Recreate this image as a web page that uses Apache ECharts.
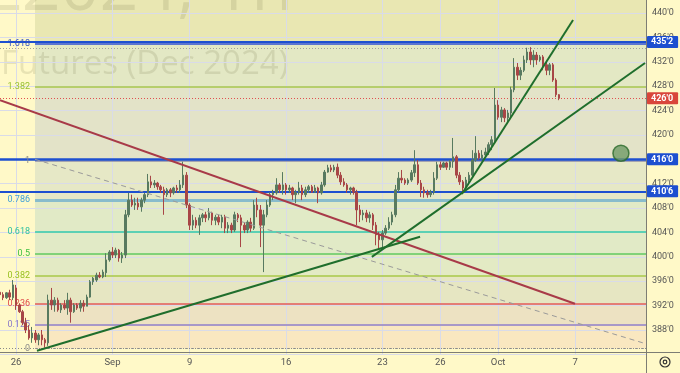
<!DOCTYPE html>
<html><head><meta charset="utf-8">
<script src="https://cdn.jsdelivr.net/npm/echarts@6/dist/echarts.min.js"></script>
<style>html,body{margin:0;padding:0;background:#fff9c8}#c{width:680px;height:373px}</style>
</head><body><div id="c"></div>
<script>
// ---- data ----
const N_CAT = 202;
const tickIdx = [5, 35, 59, 89, 119, 137, 155, 179];
const tickText = ['26', 'Sep', '9', '16', '23', '26', 'Oct', '7'];

const opens = [
394.2,393.8,393.3,394.1,393.3,394.9,392.1,391.0,389.2,388.0,
386.7,387.5,386.4,387.2,386.4,385.9,392.9,392.1,392.9,391.3,
392.1,391.6,392.9,391.0,392.1,391.6,392.4,391.9,393.4,395.9,
396.2,397.0,396.7,397.4,399.5,400.8,400.3,401.1,399.8,400.3,
406.9,409.3,408.5,408.8,408.2,409.3,410.2,412.3,411.8,412.1,
411.5,411.0,410.2,411.0,410.5,411.3,411.0,411.8,413.4,408.5,
405.2,406.0,405.2,406.4,406.9,406.4,407.2,406.0,406.5,405.7,
406.5,404.7,405.2,404.4,406.9,406.4,405.2,404.4,405.7,404.7,
408.5,407.7,405.2,406.9,408.5,410.2,410.5,411.8,411.0,411.8,
411.0,411.3,410.2,410.6,411.3,410.2,411.0,411.5,410.6,411.3,
410.5,411.8,413.9,414.6,414.25,414.7,413.4,412.3,411.8,411.0,
411.3,410.6,407.7,406.9,407.2,406.4,406.9,405.2,403.6,402.8,
403.9,404.7,405.7,406.9,411.0,412.9,412.6,412.1,412.6,413.8,
415.1,412.1,411.0,410.5,410.2,410.6,412.9,415.1,414.7,415.4,
414.7,415.6,416.4,413.4,412.3,411.3,412.6,413.4,415.9,417.0,
416.2,416.7,417.2,418.4,419.2,424.9,422.9,424.1,422.8,423.6,
427.4,431.1,429.8,430.6,432.3,433.6,432.3,433.1,432.3,432.8,
431.5,430.6,431.5,429.0,426.6];
const closes = [
393.8,393.3,394.1,393.4,395.4,392.1,391.0,389.2,388.0,386.7,
387.5,386.4,387.2,386.4,385.9,392.9,392.1,392.9,391.3,392.1,
391.6,392.9,391.0,392.1,391.6,392.4,391.9,393.4,395.9,396.5,
397.0,396.7,397.5,399.5,400.8,400.3,401.1,399.8,400.3,406.9,
409.3,408.5,408.8,408.2,409.3,410.2,412.3,411.8,412.1,411.5,
411.0,410.2,411.0,410.5,411.3,411.0,411.8,413.4,408.5,405.2,
406.0,405.2,406.4,406.9,406.4,407.2,406.0,406.5,405.7,406.5,
404.7,405.2,404.4,406.9,406.4,405.2,404.4,405.7,404.7,408.5,
407.7,405.2,406.9,408.5,410.2,410.5,411.8,411.0,411.8,411.0,
411.3,410.2,410.6,411.3,410.2,411.0,411.5,410.6,411.3,410.5,
411.8,413.9,414.6,414.25,414.7,413.4,412.3,411.8,411.0,411.3,
410.6,407.7,406.9,407.2,406.4,406.9,405.2,403.6,402.8,403.9,
404.7,405.7,406.9,411.0,412.9,412.6,412.1,412.6,413.8,415.1,
412.1,411.0,410.5,410.2,410.6,412.9,415.1,414.7,415.4,414.7,
415.6,416.4,413.4,412.3,411.3,412.6,413.4,415.9,417.0,416.2,
416.7,417.2,418.4,419.2,424.9,422.9,424.1,422.8,423.6,427.4,
431.1,429.8,430.6,432.3,433.6,432.3,433.1,432.3,432.8,431.5,
430.6,431.5,429.0,426.6,426.0];
const lows = [
393.3,392.9,393.1,392.9,392.9,391.3,390.8,388.8,387.5,386.4,
385.9,385.9,385.5,385.5,385.1,385.4,391.3,391.0,391.0,390.8,
391.3,390.5,389.2,390.8,391.3,391.0,391.0,391.9,393.3,395.4,
395.9,396.5,396.5,396.7,399.2,399.8,399.8,399.2,399.0,399.8,
406.5,408.2,407.7,407.7,407.4,408.8,409.8,411.3,411.3,411.0,
410.5,406.9,409.8,409.8,410.2,410.5,410.5,411.3,408.0,404.4,
404.4,404.7,403.6,405.7,405.7,406.0,405.2,405.2,405.2,404.7,
403.9,403.9,403.9,404.1,405.7,401.6,403.9,403.9,404.1,404.4,
406.5,401.6,397.5,406.5,408.2,409.3,410.2,410.5,410.2,410.2,
410.5,409.3,408.8,410.2,409.3,409.8,410.5,410.5,410.5,408.8,
410.2,411.5,413.8,413.9,413.9,412.9,411.8,411.5,410.5,410.2,
410.2,405.2,405.7,406.0,405.7,405.6,404.4,401.9,401.3,401.6,
403.6,404.4,405.2,406.5,410.6,412.1,411.8,411.8,412.3,413.1,
411.8,409.8,409.7,409.7,409.8,410.2,412.6,414.25,414.6,414.25,
414.25,414.6,412.9,411.8,410.6,411.0,411.8,413.1,415.6,415.9,
415.9,416.4,416.7,417.5,418.7,422.5,422.1,422.1,421.9,422.9,
427.0,429.0,429.0,430.3,431.8,431.5,431.1,431.5,432.0,430.6,
429.8,429.8,428.7,426.2,425.7];
const highs = [
394.6,394.2,394.2,394.6,396.2,395.4,392.4,391.3,390.0,388.8,
388.5,388.0,387.5,388.0,386.7,393.8,394.9,393.4,393.3,392.4,
392.9,394.1,393.3,392.4,392.4,392.9,392.9,393.8,396.2,396.7,
397.4,397.5,397.9,400.6,401.1,401.6,401.5,401.3,400.8,407.7,
410.5,410.2,409.7,409.7,409.7,410.5,413.6,413.3,412.6,412.3,
411.8,411.5,411.3,411.3,411.5,411.8,412.6,415.6,413.9,408.8,
406.9,406.5,406.9,407.2,407.4,408.0,407.4,406.9,406.9,406.9,
406.9,405.7,405.6,407.4,407.2,406.9,405.7,406.0,406.4,409.3,
409.7,408.5,407.7,409.3,410.6,411.0,412.9,412.1,413.9,412.1,
411.8,411.5,411.0,412.3,411.8,411.5,411.8,411.8,411.8,411.5,
412.3,414.25,415.1,415.1,415.1,415.3,413.9,412.9,412.1,411.5,
411.5,411.0,408.5,407.7,407.7,407.4,407.2,405.7,404.1,404.4,
405.2,406.5,407.4,411.8,413.9,414.25,412.9,412.9,414.25,417.5,
415.9,412.6,411.5,411.0,411.0,413.9,415.6,415.6,415.6,415.6,
415.9,419.5,416.7,413.9,412.6,413.1,413.9,417.5,419.8,417.5,
417.5,417.9,418.8,419.8,427.7,425.7,424.6,424.4,424.1,427.9,
432.6,431.8,431.1,433.0,434.3,434.4,433.9,433.6,433.1,433.1,
432.0,431.8,431.8,429.3,426.7];

// Fibonacci retracement (anchor bar index -> right edge)
const fibLow = 385.0, fibHigh = 416.0;
const fibStartIdx = 10.9, fibEndIdx = 201;
const fibRatios = [0, 0.125, 0.236, 0.382, 0.5, 0.618, 0.786, 1, 1.382, 1.618];
const fibText   = ['0', '0.125', '0.236', '0.382', '0.5', '0.618', '0.786', '1', '1.382', '1.618'];

// horizontal price levels with axis tags
const levelPrices = [435.25, 426.0, 416.0, 410.75];
const levelText = ["435'2", "426'0", "416'0", "410'6"];

// drawn trend lines [barIndex, price]
const redLine   = [[0, 425.7], [178.9, 392.3]];
const grayDash  = [[10.9, 416.0], [200, 385.9]];
const greenA    = [[11.5, 384.6], [130.7, 403.3]];
const greenB    = [[115.7, 400.0], [200.7, 431.8]];
const greenC    = [[143.7, 410.3], [178.3, 438.85]];
const markerPt  = [[193.2, 417.0]];

// ---- styles ----
const fibLineColor  = ['#9a9a9a', '#a898c8', '#e05a5a', '#a8c848', '#60c860', '#5cd0b4', '#88bccc', '#a4a4b0', '#a8c848', '#5a74d0'];
const fibLabelColor = ['#8a8a8a', '#8a7ac8', '#e04848', '#98c020', '#40c040', '#30c0a0', '#40a0d8', '#888888', '#98c030', '#3050c0'];
const fibLineWidth  = [1, 2, 1.5, 1.5, 1.5, 2, 3, 2, 1.5, 2];
const zoneColors = ['#f9e7c0', '#ede2c2', '#e6e6c2', '#e3eac4', '#e1eac6', '#e1eac6', '#e6e8c6', '#e3e3c8', '#e3e8c4', '#e9e7b2'];
const levelColor = ['#1d4fd0', '#d9463b', '#1d4fd0', '#1d4fd0'];

const FONT = 'Roboto, "Liberation Sans", sans-serif';
function fmtPrice(v) { const i = Math.floor(v + 1e-9); const f = Math.round((v - i) * 8); return i + "'" + f; }
const fibPrice = r => fibLow + (fibHigh - fibLow) * r;

const chart = echarts.init(document.getElementById('c'), null, { renderer: 'canvas' });

const cats = Array.from({ length: N_CAT }, (_, i) => String(i));
const candleData = opens.map((o, i) => [o, closes[i], lows[i], highs[i]]);

const Y_MIN = 384, Y_MAX = 442.13;

// fib zones
const zoneAreas = fibRatios.map((r, k) => {
  const lo = fibPrice(r);
  const hi = k + 1 < fibRatios.length ? fibPrice(fibRatios[k + 1]) : Y_MAX;
  return [{ coord: [fibStartIdx, lo], itemStyle: { color: zoneColors[k] } }, { coord: [fibEndIdx, hi] }];
});
// fib lines
const fibLines = fibRatios.map((r, k) => {
  let p = fibPrice(r);
  if (r === 1.618) p = 434.9;
  if (r === 1) p = 415.75;
  return [{
    coord: [fibStartIdx, p],
    lineStyle: { color: fibLineColor[k], width: fibLineWidth[k], type: r === 0 ? 'dotted' : 'solid' },
    label: { show: true, position: 'start', formatter: fibText[k], color: fibLabelColor[k], fontSize: 9, fontFamily: FONT, distance: 5 }
  }, { coord: [fibEndIdx, p] }];
});
// full-width horizontal lines
const hLines = [
  { yAxis: 385.0, lineStyle: { color: '#8a8a8a', width: 1, type: [1, 2] }, label: { show: false } },
  { yAxis: 434.25, lineStyle: { color: '#a0a0a0', width: 1, type: [1, 2] }, label: { show: false } }
].concat(levelPrices.map((p, k) => ({
  yAxis: p,
  lineStyle: k === 1 ? { color: '#e05050', width: 1, type: [1, 2] } : { color: levelColor[k], width: k === 2 ? 2.5 : 2, type: 'solid' },
  label: {
    show: true, position: 'end', distance: 1, formatter: levelText[k],
    backgroundColor: levelColor[k], color: '#ffffff', fontSize: 9, fontWeight: 'bold', fontFamily: FONT,
    padding: [2, 5, 1, 4], borderRadius: 1
  }
})));

function trend(data, color, width, type, z) {
  return { type: 'line', xAxisIndex: 1, yAxisIndex: 0, data, symbol: 'none', silent: true,
    lineStyle: { color, width, type }, z: z || 6 };
}

const option = {
  animation: false,
  backgroundColor: '#fff9c8',
  grid: { left: 0, right: 34, top: 0, bottom: 18.6, containLabel: false },
  xAxis: [{
    type: 'category', data: cats, boundaryGap: false, gridIndex: 0, z: 3,
    axisLine: { show: false }, axisTick: { show: false },
    axisLabel: {
      interval: i => tickIdx.indexOf(i) >= 0,
      formatter: (v, i) => { const k = tickIdx.indexOf(i); return k >= 0 ? tickText[k] : ''; },
      color: '#555', fontSize: 9.5, fontFamily: FONT, margin: 3
    },
    splitLine: { show: true, interval: i => tickIdx.indexOf(i) >= 0, lineStyle: { color: '#d9dbe8', width: 1 } }
  }, {
    type: 'value', min: 0, max: N_CAT - 1, gridIndex: 0, show: false
  }],
  yAxis: [{
    type: 'value', min: Y_MIN, max: Y_MAX, interval: 4, position: 'right', z: 3,
    axisLine: { show: false }, axisTick: { show: false },
    axisLabel: {
      showMaxLabel: false,
      formatter: v => (v < 386 || v > 441 || Math.abs(v - Math.round(v)) > 1e-6) ? '' : fmtPrice(v),
      color: '#555', fontSize: 9, fontFamily: FONT, margin: 6
    },
    splitLine: { show: true, showMaxLine: false, lineStyle: { color: '#d9dbe8', width: 1 } }
  }],
  series: [
    { type: 'line', name: 'fibZones', xAxisIndex: 1, yAxisIndex: 0, z: 1, silent: true, symbol: 'none',
      data: [[fibStartIdx, fibLow], [fibStartIdx, fibHigh]], lineStyle: { opacity: 0 },
      markArea: { silent: true, data: zoneAreas } },
    { type: 'line', name: 'fibLines', xAxisIndex: 1, yAxisIndex: 0, z: 4, silent: true, symbol: 'none',
      data: [[fibStartIdx, fibLow], [fibStartIdx, fibHigh]], lineStyle: { opacity: 0 },
      markLine: { silent: true, symbol: ['none', 'none'], data: fibLines } },
    { type: 'candlestick', name: 'price', xAxisIndex: 0, yAxisIndex: 0, z: 5, data: candleData, barWidth: 2,
      itemStyle: { color: '#587a60', color0: '#a84646', borderColor: '#587a60', borderColor0: '#a84646', borderWidth: 1 } },
    trend(redLine, '#a83a48', 2, 'solid'),
    trend(grayDash, '#9a9a9a', 1, [5, 4]),
    trend(greenA, '#1f6e2c', 2, 'solid'),
    trend(greenB, '#1f6e2c', 2, 'solid'),
    trend(greenC, '#1f6e2c', 2, 'solid'),
    { type: 'line', name: 'levels', xAxisIndex: 1, yAxisIndex: 0, z: 7, silent: true, symbol: 'none',
      data: [[0, 416], [1, 416]], lineStyle: { opacity: 0 },
      markLine: { silent: true, symbol: ['none', 'none'], data: hLines } },
    { type: 'scatter', xAxisIndex: 1, yAxisIndex: 0, z: 8, silent: true, data: markerPt, symbolSize: 16,
      itemStyle: { color: '#6f9a66', borderColor: '#2b6a2b', borderWidth: 1.5 } }
  ],
  graphic: [
    { type: 'text', z: 2, silent: true, x: 293, y: 25,
      style: { text: 'ZCZ2024, 1h', font: '68px "Open Sans", sans-serif', fill: 'rgba(100,100,60,0.15)', textAlign: 'right', textVerticalAlign: 'bottom' } },
    { type: 'text', z: 2, silent: true, x: 1, y: 81,
      style: { text: 'Futures (Dec 2024)', font: '33px "Open Sans", sans-serif', fill: 'rgba(100,100,60,0.15)', textAlign: 'left', textVerticalAlign: 'bottom' } },
    { type: 'line', z: 20, silent: true, shape: { x1: 0, y1: 352.5, x2: 680, y2: 352.5 }, style: { stroke: '#7d7d74', lineWidth: 1 } },
    { type: 'line', z: 20, silent: true, shape: { x1: 646.5, y1: 0, x2: 646.5, y2: 373 }, style: { stroke: '#7d7d74', lineWidth: 1 } },
    { type: 'circle', z: 20, silent: true, shape: { cx: 665, cy: 362, r: 5 }, style: { fill: 'none', stroke: '#333', lineWidth: 1.2 } },
    { type: 'circle', z: 20, silent: true, shape: { cx: 665, cy: 362, r: 1.8 }, style: { fill: 'none', stroke: '#333', lineWidth: 1.2 } }
  ]
};
chart.setOption(option);
</script>
</body></html>
